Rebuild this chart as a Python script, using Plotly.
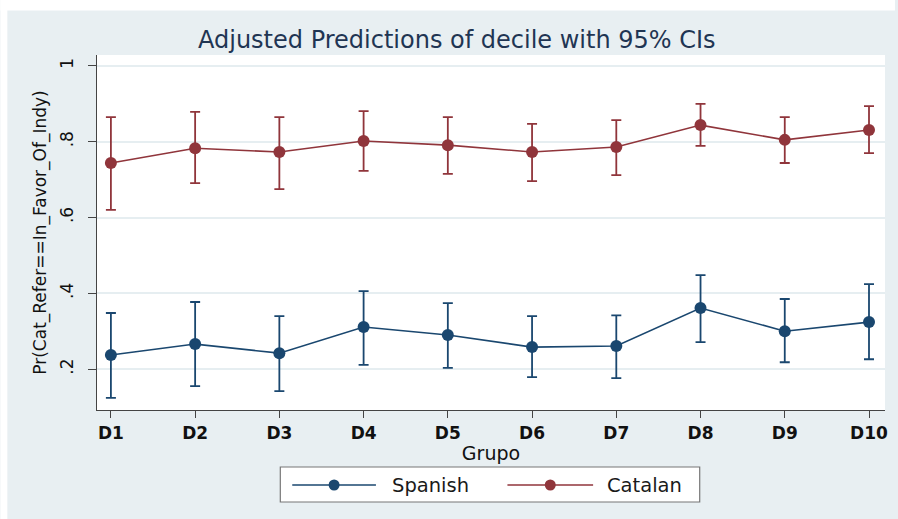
import plotly.graph_objects as go

categories = ["D1", "D2", "D3", "D4", "D5", "D6", "D7", "D8", "D9", "D10"]

spanish = [0.237, 0.266, 0.242, 0.311, 0.290, 0.258, 0.261, 0.361, 0.300, 0.324]
spanish_hi = [0.348, 0.377, 0.340, 0.406, 0.374, 0.340, 0.342, 0.448, 0.385, 0.424]
spanish_lo = [0.124, 0.155, 0.142, 0.211, 0.203, 0.179, 0.176, 0.271, 0.218, 0.226]

catalan = [0.744, 0.783, 0.773, 0.802, 0.791, 0.773, 0.786, 0.844, 0.805, 0.831]
catalan_hi = [0.865, 0.879, 0.865, 0.881, 0.865, 0.847, 0.857, 0.900, 0.865, 0.894]
catalan_lo = [0.620, 0.691, 0.675, 0.723, 0.715, 0.696, 0.712, 0.789, 0.744, 0.770]

y_ticks = [0.2, 0.4, 0.6, 0.8, 1.0]
y_ticklabels = [".2", ".4", ".6", ".8", "1"]

BLUE = "#1a476f"
RED = "#90353b"
BG = "#e8eff2"
FONT = "DejaVu Sans"

W, H = 898, 519
# plot area in page pixels: x 97..888, y 55..410
PL, PR, PT, PB = 97, 888, 55, 410
L, R, T, B = PL, W - PR, PT, H - PB
PW, PH = PR - PL, PB - PT


def px(x):
    return (x - PL) / PW


def py(y):
    return (PB - y) / PH


fig = go.Figure()


def add_series(name, vals, hi, lo, color):
    fig.add_trace(go.Scatter(
        x=list(range(len(categories))), y=vals, name=name, mode="lines+markers",
        line=dict(color=color, width=1.6),
        marker=dict(color=color, size=12),
        error_y=dict(type="data", symmetric=False,
                     array=[h - v for h, v in zip(hi, vals)],
                     arrayminus=[v - l for v, l in zip(vals, lo)],
                     color=color, thickness=1.8, width=5),
        showlegend=False,
    ))


add_series("Spanish", spanish, spanish_hi, spanish_lo, BLUE)
add_series("Catalan", catalan, catalan_hi, catalan_lo, RED)

shapes = []
annotations = []

# white strips at the top and left edges of the image
shapes.append(dict(type="rect", xref="paper", yref="paper", x0=px(0), x1=px(W), y0=py(10.5), y1=py(0),
                   fillcolor="white", line=dict(width=0), layer="below"))
shapes.append(dict(type="rect", xref="paper", yref="paper", x0=px(0), x1=px(7), y0=py(H), y1=py(0),
                   fillcolor="white", line=dict(width=0), layer="below"))

# legend box
shapes.append(dict(type="rect", xref="paper", yref="paper", x0=px(281), x1=px(702), y0=py(502), y1=py(467),
                   fillcolor="white", line=dict(color="#777777", width=1.2)))
legend_items = [("Spanish", BLUE, 293, 377, 391), ("Catalan", RED, 509, 595, 607)]
for name, color, x0, x1, tx in legend_items:
    ly = py(485)
    shapes.append(dict(type="line", xref="paper", yref="paper", x0=px(x0), x1=px(x1), y0=ly, y1=ly,
                       line=dict(color=color, width=1.6)))
    cx = (x0 + x1) / 2
    shapes.append(dict(type="circle", xref="paper", yref="paper", x0=px(cx - 5.5), x1=px(cx + 5.5),
                       y0=py(485 + 5.5), y1=py(485 - 5.5), fillcolor=color, line=dict(color=color, width=0)))
    annotations.append(dict(text=name, xref="paper", yref="paper", x=px(tx), y=ly, xanchor="left",
                            yanchor="middle", showarrow=False, font=dict(family=FONT, size=19.5, color="#1a1a1a")))

annotations.append(dict(text="Adjusted Predictions of decile with 95% CIs", xref="paper", yref="paper",
                        x=px(458), y=py(40), xanchor="center", yanchor="middle", showarrow=False,
                        font=dict(family=FONT, size=24, color="#1f3553")))

fig.update_layout(
    width=W, height=H,
    margin=dict(l=L, r=R, t=T, b=B),
    paper_bgcolor=BG, plot_bgcolor="white",
    font=dict(family=FONT, color="#1a1a1a"),
    showlegend=False,
    shapes=shapes, annotations=annotations,
    xaxis=dict(
        range=[-0.165, 9.19], tickmode="array", tickvals=list(range(len(categories))),
        ticktext=["<b>%s</b>" % c for c in categories],
        showgrid=False, zeroline=False, showline=True, linecolor="#444444", linewidth=1.2,
        ticks="outside", ticklen=7, tickcolor="#444444", tickwidth=1.2,
        tickfont=dict(size=17, color="#111111"),
        title=dict(text="Grupo", font=dict(size=19, color="#111111"), standoff=2),
    ),
    yaxis=dict(
        range=[0.092, 1.029], tickmode="array", tickvals=y_ticks, ticktext=y_ticklabels,
        tickangle=-90, showgrid=True, gridcolor="#e6eef1", gridwidth=1.5, zeroline=False,
        showline=True, linecolor="#444444", linewidth=1.2,
        ticks="outside", ticklen=8, tickcolor="#444444", tickwidth=1.2,
        ticklabelstandoff=8,
        tickfont=dict(size=17, color="#111111"),
        title=dict(text="Pr(Cat_Refer==In_Favor_Of_Indy)", font=dict(size=17, color="#111111"), standoff=6),
    ),
)

fig.write_html("out.html", config={"displayModeBar": False},
               post_script="document.body.style.margin='0';document.body.style.overflow='hidden';")
